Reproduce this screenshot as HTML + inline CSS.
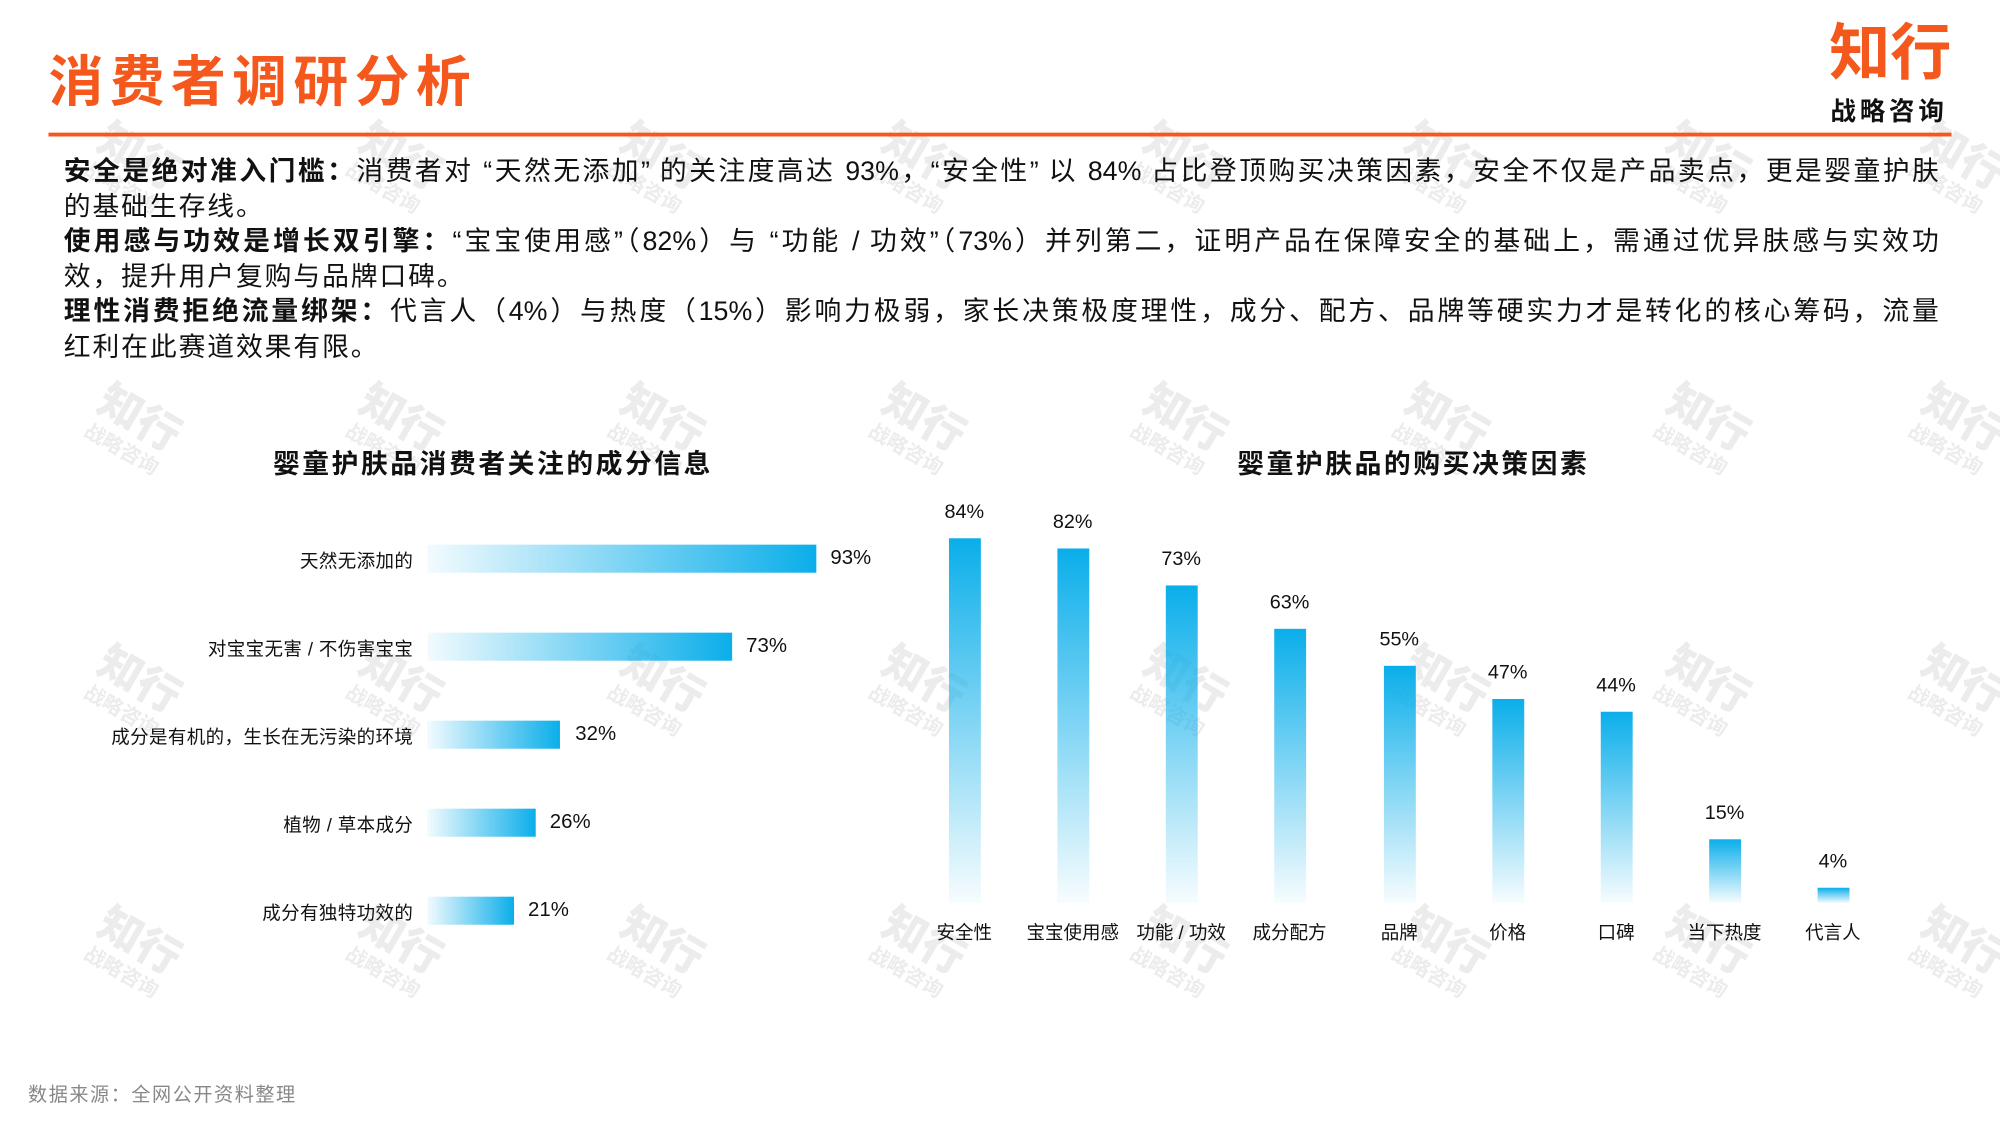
<!DOCTYPE html>
<html><head><meta charset="utf-8"><style>
html,body{margin:0;padding:0;background:#fff;overflow:hidden;width:2000px;height:1125px}
#s{position:absolute;left:0;top:0;width:1568px;height:882px;transform:scale(1.27551);transform-origin:0 0;font-family:"Liberation Sans","Noto Sans CJK SC",sans-serif;color:#111}
.a{position:absolute;white-space:nowrap}
.wm{position:absolute;color:#ececec;font-weight:bold;transform:rotate(30deg);text-align:center;line-height:1}
.wm b{display:block;font-size:34px}.wm i{display:block;font-style:normal;font-size:16px;margin-top:4px}
.p{position:absolute;left:50px;width:1470px;font-size:21px;line-height:27.5px}
.p div{white-space:nowrap}
.j{text-align:justify;text-align-last:justify;white-space:normal!important}
.hb{position:absolute;left:335px;height:22px;background:linear-gradient(to right,rgba(10,174,234,0.05),#0aaeea)}
.hl{position:absolute;right:1244px;font-size:14.5px;white-space:nowrap;letter-spacing:0.3px}
.hv{position:absolute;font-size:16px}
.vb{position:absolute;width:25px;background:linear-gradient(to bottom,#0aaeea,rgba(10,174,234,0.03))}
.vv{position:absolute;width:80px;text-align:center;font-size:15.5px}
.vc{position:absolute;width:90px;text-align:center;font-size:14.5px;top:720px}
</style></head><body><div id="s">
<div class="wm" style="left:70px;top:105px"><b>知行</b><i>战略咨询</i></div>
<div class="wm" style="left:275px;top:105px"><b>知行</b><i>战略咨询</i></div>
<div class="wm" style="left:480px;top:105px"><b>知行</b><i>战略咨询</i></div>
<div class="wm" style="left:685px;top:105px"><b>知行</b><i>战略咨询</i></div>
<div class="wm" style="left:890px;top:105px"><b>知行</b><i>战略咨询</i></div>
<div class="wm" style="left:1095px;top:105px"><b>知行</b><i>战略咨询</i></div>
<div class="wm" style="left:1300px;top:105px"><b>知行</b><i>战略咨询</i></div>
<div class="wm" style="left:1500px;top:105px"><b>知行</b><i>战略咨询</i></div>
<div class="wm" style="left:70px;top:310px"><b>知行</b><i>战略咨询</i></div>
<div class="wm" style="left:275px;top:310px"><b>知行</b><i>战略咨询</i></div>
<div class="wm" style="left:480px;top:310px"><b>知行</b><i>战略咨询</i></div>
<div class="wm" style="left:685px;top:310px"><b>知行</b><i>战略咨询</i></div>
<div class="wm" style="left:890px;top:310px"><b>知行</b><i>战略咨询</i></div>
<div class="wm" style="left:1095px;top:310px"><b>知行</b><i>战略咨询</i></div>
<div class="wm" style="left:1300px;top:310px"><b>知行</b><i>战略咨询</i></div>
<div class="wm" style="left:1500px;top:310px"><b>知行</b><i>战略咨询</i></div>
<div class="wm" style="left:70px;top:515px"><b>知行</b><i>战略咨询</i></div>
<div class="wm" style="left:275px;top:515px"><b>知行</b><i>战略咨询</i></div>
<div class="wm" style="left:480px;top:515px"><b>知行</b><i>战略咨询</i></div>
<div class="wm" style="left:685px;top:515px"><b>知行</b><i>战略咨询</i></div>
<div class="wm" style="left:890px;top:515px"><b>知行</b><i>战略咨询</i></div>
<div class="wm" style="left:1095px;top:515px"><b>知行</b><i>战略咨询</i></div>
<div class="wm" style="left:1300px;top:515px"><b>知行</b><i>战略咨询</i></div>
<div class="wm" style="left:1500px;top:515px"><b>知行</b><i>战略咨询</i></div>
<div class="wm" style="left:70px;top:720px"><b>知行</b><i>战略咨询</i></div>
<div class="wm" style="left:275px;top:720px"><b>知行</b><i>战略咨询</i></div>
<div class="wm" style="left:480px;top:720px"><b>知行</b><i>战略咨询</i></div>
<div class="wm" style="left:685px;top:720px"><b>知行</b><i>战略咨询</i></div>
<div class="wm" style="left:890px;top:720px"><b>知行</b><i>战略咨询</i></div>
<div class="wm" style="left:1095px;top:720px"><b>知行</b><i>战略咨询</i></div>
<div class="wm" style="left:1300px;top:720px"><b>知行</b><i>战略咨询</i></div>
<div class="wm" style="left:1500px;top:720px"><b>知行</b><i>战略咨询</i></div>

<div class="a" style="left:38px;top:30px;font-size:43px;font-weight:bold;color:#f4581c;letter-spacing:5px">消费者调研分析</div>
<div class="a" style="left:1434px;top:16px;font-size:48px;font-weight:bold;color:#f4581c;line-height:54px">知行</div>
<div class="a" style="left:1435px;top:71px;font-size:20px;font-weight:bold;color:#111;letter-spacing:3px">战略咨询</div>
<div class="a" style="left:38px;top:104px;width:1492px;height:3px;background:#f4581c"></div>

<div class="p" style="top:121px">
<div class="j"><b>安全是绝对准入门槛：</b>消费者对 “天然无添加” 的关注度高达 93%，“安全性” 以 84% 占比登顶购买决策因素，安全不仅是产品卖点，更是婴童护肤</div>
<div style="letter-spacing:1.5px">的基础生存线。</div>
<div class="j"><b>使用感与功效是增长双引擎：</b>“宝宝使用感”（82%）与 “功能 / 功效”（73%）并列第二，证明产品在保障安全的基础上，需通过优异肤感与实效功</div>
<div style="letter-spacing:1.5px">效，提升用户复购与品牌口碑。</div>
<div class="j"><b>理性消费拒绝流量绑架：</b>代言人（4%）与热度（15%）影响力极弱，家长决策极度理性，成分、配方、品牌等硬实力才是转化的核心筹码，流量</div>
<div style="letter-spacing:1.5px">红利在此赛道效果有限。</div>
</div>

<div class="a" style="left:214px;top:348px;font-size:21px;font-weight:bold;letter-spacing:2px">婴童护肤品消费者关注的成分信息</div>
<div class="a" style="left:970px;top:348px;font-size:21px;font-weight:bold;letter-spacing:2px">婴童护肤品的购买决策因素</div>

<div class="hl" style="top:429px">天然无添加的</div><div class="hb" style="top:427px;width:305px"></div><div class="hv" style="left:651px;top:429px">93%</div>
<div class="hl" style="top:498px">对宝宝无害 / 不伤害宝宝</div><div class="hb" style="top:496px;width:239px"></div><div class="hv" style="left:585px;top:498px">73%</div>
<div class="hl" style="top:567px">成分是有机的，生长在无污染的环境</div><div class="hb" style="top:565px;width:104px"></div><div class="hv" style="left:451px;top:567px">32%</div>
<div class="hl" style="top:636px">植物 / 草本成分</div><div class="hb" style="top:634px;width:85px"></div><div class="hv" style="left:431px;top:636px">26%</div>
<div class="hl" style="top:705px">成分有独特功效的</div><div class="hb" style="top:703px;width:68px"></div><div class="hv" style="left:414px;top:705px">21%</div>

<div class="vb" style="left:744px;top:422px;height:286px"></div><div class="vv" style="left:716px;top:393px">84%</div><div class="vc" style="left:711px">安全性</div>
<div class="vb" style="left:829px;top:430px;height:278px"></div><div class="vv" style="left:801px;top:401px">82%</div><div class="vc" style="left:796px">宝宝使用感</div>
<div class="vb" style="left:914px;top:459px;height:249px"></div><div class="vv" style="left:886px;top:430px">73%</div><div class="vc" style="left:881px">功能 / 功效</div>
<div class="vb" style="left:999px;top:493px;height:215px"></div><div class="vv" style="left:971px;top:464px">63%</div><div class="vc" style="left:966px">成分配方</div>
<div class="vb" style="left:1085px;top:522px;height:186px"></div><div class="vv" style="left:1057px;top:493px">55%</div><div class="vc" style="left:1052px">品牌</div>
<div class="vb" style="left:1170px;top:548px;height:160px"></div><div class="vv" style="left:1142px;top:519px">47%</div><div class="vc" style="left:1137px">价格</div>
<div class="vb" style="left:1255px;top:558px;height:150px"></div><div class="vv" style="left:1227px;top:529px">44%</div><div class="vc" style="left:1222px">口碑</div>
<div class="vb" style="left:1340px;top:658px;height:50px"></div><div class="vv" style="left:1312px;top:629px">15%</div><div class="vc" style="left:1307px">当下热度</div>
<div class="vb" style="left:1425px;top:696px;height:12px"></div><div class="vv" style="left:1397px;top:667px">4%</div><div class="vc" style="left:1392px">代言人</div>

<div class="a" style="left:22px;top:847px;font-size:15px;color:#888;letter-spacing:1.2px">数据来源：全网公开资料整理</div>
</div></body></html>
